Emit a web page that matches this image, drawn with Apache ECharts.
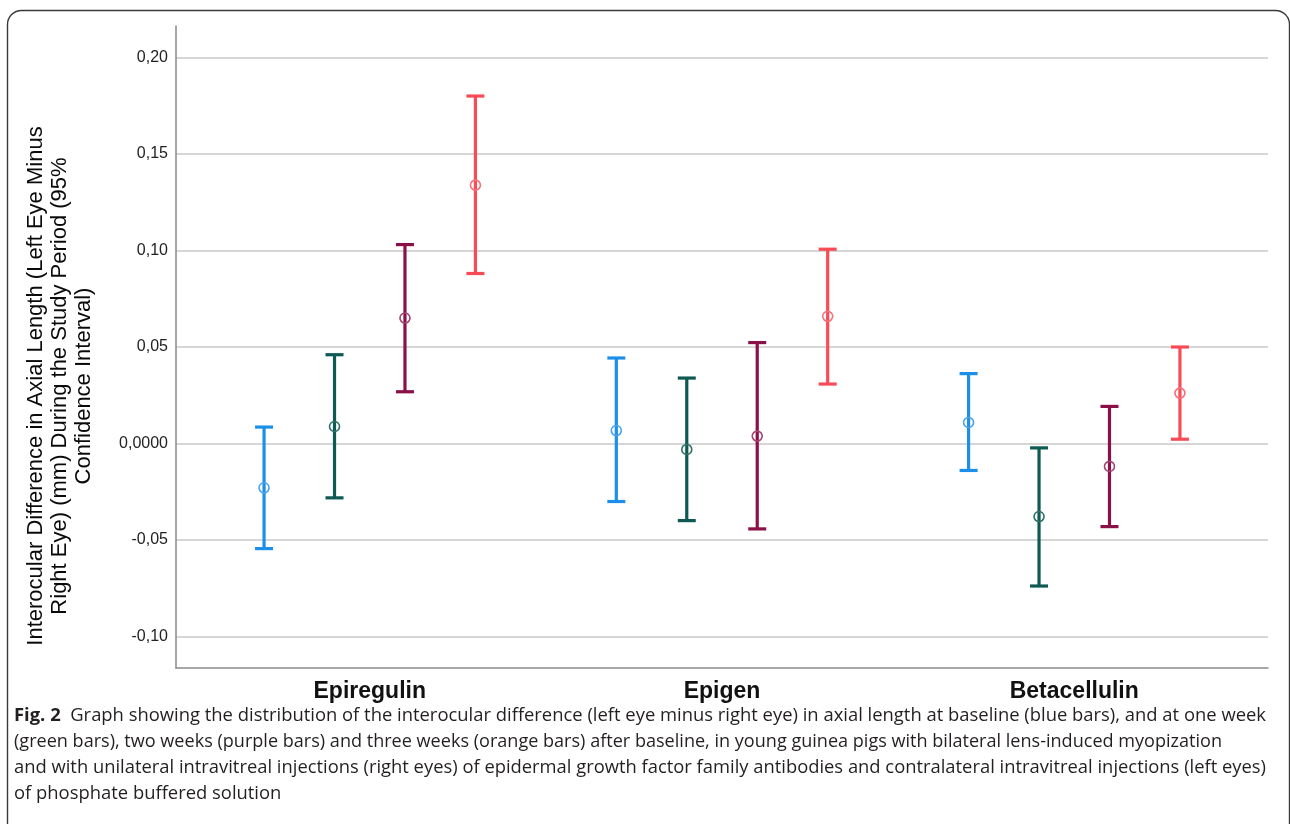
<!DOCTYPE html>
<html>
<head>
<meta charset="utf-8">
<script src="https://cdn.jsdelivr.net/npm/echarts@6/dist/echarts.min.js"></script>
<style>
html,body{margin:0;padding:0;background:#fff;}
#chart{width:1290px;height:824px;}
</style>
</head>
<body>
<div id="chart"></div>
<script>
// ---- data ----
const categories = ['Epiregulin', 'Epigen', 'Betacellulin'];
const seriesNames = ['Baseline', 'One week', 'Two weeks', 'Three weeks'];
const yTicks = [-0.10, -0.05, 0, 0.05, 0.10, 0.15, 0.20];
const yTickLabels = ['-0,10', '-0,05', '0,0000', '0,05', '0,10', '0,15', '0,20'];

const baselineMean = [-0.0230, 0.0067, 0.0109];
const baselineLow  = [-0.0545, -0.0301, -0.0140];
const baselineHigh = [0.0085, 0.0443, 0.0362];

const week1Mean = [0.0088, -0.0031, -0.0379];
const week1Low  = [-0.0282, -0.0400, -0.0739];
const week1High = [0.0460, 0.0339, -0.0023];

const week2Mean = [0.0650, 0.0038, -0.0119];
const week2Low  = [0.0268, -0.0443, -0.0431];
const week2High = [0.1031, 0.0523, 0.0192];

const week3Mean = [0.1339, 0.0659, 0.0261];
const week3Low  = [0.0881, 0.0308, 0.0022];
const week3High = [0.1801, 0.1007, 0.0500];

const yAxisTitle = 'Interocular Difference in Axial Length (Left Eye Minus\nRight Eye) (mm) During the Study Period (95%\nConfidence Interval)';
const captionBold = 'Fig. 2';
const captionLines = [
  '  Graph showing the distribution of the interocular difference (left eye minus right eye) in axial length at baseline (blue bars), and at one week',
  '(green bars), two weeks (purple bars) and three weeks (orange bars) after baseline, in young guinea pigs with bilateral lens-induced myopization',
  'and with unilateral intravitreal injections (right eyes) of epidermal growth factor family antibodies and contralateral intravitreal injections (left eyes)',
  'of phosphate buffered solution'
];

// ---- styling ----
const offsets = [-0.3, -0.1, 0.1, 0.3];
const lineColors = ['#1c8fe8', '#0e5a52', '#8b1048', '#f84b55'];
const ringColors = ['#4aa3ec', '#2e6f67', '#a4436f', '#f5707a'];

const ctx = document.createElement('canvas').getContext('2d');
function tw(str, font) { ctx.font = font; return ctx.measureText(str).width; }
const capFont = '"Open Sans", "Noto Sans", sans-serif';
const capSize = 18.5;
const capTargets = [1252, 1208, 1252, null];

const chart = echarts.init(document.getElementById('chart'), null, {renderer: 'canvas'});

function makeSeries(k, mean, low, high) {
  const data = categories.map((c, i) => [i + offsets[k], low[i], high[i], mean[i]]);
  return {
    type: 'custom',
    name: seriesNames[k],
    data: data,
    z: 5,
    encode: {x: 0, y: [1, 2, 3]},
    renderItem: function (params, api) {
      const x = api.value(0);
      const pl = api.coord([x, api.value(1)]);
      const ph = api.coord([x, api.value(2)]);
      const pm = api.coord([x, api.value(3)]);
      const hw = 9;
      const st = {stroke: lineColors[k], lineWidth: 3.2};
      return {
        type: 'group',
        children: [
          {type: 'line', shape: {x1: pl[0], y1: pl[1], x2: ph[0], y2: ph[1]}, style: st},
          {type: 'line', shape: {x1: pl[0] - hw, y1: pl[1], x2: pl[0] + hw, y2: pl[1]}, style: st},
          {type: 'line', shape: {x1: ph[0] - hw, y1: ph[1], x2: ph[0] + hw, y2: ph[1]}, style: st},
          {type: 'circle', shape: {cx: pm[0], cy: pm[1], r: 5}, style: {fill: 'none', stroke: ringColors[k], lineWidth: 1.6}}
        ]
      };
    }
  };
}

// caption graphics, condensed to the reference widths
const line0Natural = tw(captionBold, 'bold ' + capSize + 'px ' + capFont) + tw(captionLines[0], capSize + 'px ' + capFont);
const captionGraphics = captionLines.map((line, i) => {
  let natural;
  let style;
  if (i === 0) {
    natural = line0Natural;
    style = {
      text: '{b|' + captionBold + '}' + line,
      font: capSize + 'px ' + capFont,
      fill: '#231f20',
      rich: {b: {fontWeight: 'bold', fontSize: capSize, fontFamily: capFont, fill: '#231f20'}}
    };
  } else {
    natural = tw(line, capSize + 'px ' + capFont);
    style = {text: line, font: capSize + 'px ' + capFont, fill: '#231f20'};
  }
  const scale = capTargets[i] ? capTargets[i] / natural : capTargets[0] / line0Natural;
  style.align = 'left';
  style.verticalAlign = 'middle';
  return {type: 'text', x: 14, y: 716 + i * 26, scaleX: scale, style: style, z: 10};
});

const option = {
  backgroundColor: '#ffffff',
  animation: false,
  grid: {left: 176, right: 22, top: 26, bottom: 156, containLabel: false},
  xAxis: {
    type: 'value',
    min: -0.55,
    max: 2.55,
    axisLine: {show: true, onZero: false, lineStyle: {color: '#8a8a8a', width: 1.5}},
    axisTick: {show: false, customValues: [0, 1, 2]},
    splitLine: {show: false},
    axisLabel: {
      customValues: [0, 1, 2],
      formatter: v => categories[Math.round(v)],
      fontFamily: '"Liberation Sans", Arial, sans-serif',
      fontWeight: 'bold',
      fontSize: 23,
      color: '#111',
      margin: 12
    }
  },
  yAxis: {
    type: 'value',
    min: -0.1164,
    max: 0.2164,
    axisLine: {show: true, onZero: false, lineStyle: {color: '#8a8a8a', width: 1.5}},
    axisTick: {show: false, customValues: yTicks},
    splitLine: {show: true, lineStyle: {color: '#c8c8c8', width: 1.6}},
    axisLabel: {
      customValues: yTicks,
      formatter: v => {
        const i = yTicks.findIndex(t => Math.abs(t - v) < 1e-9);
        return i >= 0 ? yTickLabels[i] : '';
      },
      fontFamily: '"Liberation Sans", Arial, sans-serif',
      fontSize: 16,
      color: '#222',
      margin: 8
    }
  },
  series: [
    makeSeries(0, baselineMean, baselineLow, baselineHigh),
    makeSeries(1, week1Mean, week1Low, week1High),
    makeSeries(2, week2Mean, week2Low, week2High),
    makeSeries(3, week3Mean, week3Low, week3High)
  ],
  graphic: [
    {
      type: 'rect', left: 5, top: 8, z: 0, silent: true,
      shape: {width: 1282, height: 840, r: 14},
      style: {fill: 'none', stroke: '#3a3a3a', lineWidth: 1.4}
    },
    {
      type: 'text', x: 60, y: 386, rotation: Math.PI / 2, z: 10,
      style: {
        text: yAxisTitle,
        font: '22px "Liberation Sans", Arial, sans-serif',
        fill: '#0a0a0a',
        align: 'center', verticalAlign: 'middle',
        lineHeight: 24
      }
    }
  ].concat(captionGraphics)
};
chart.setOption(option);
</script>
</body>
</html>
